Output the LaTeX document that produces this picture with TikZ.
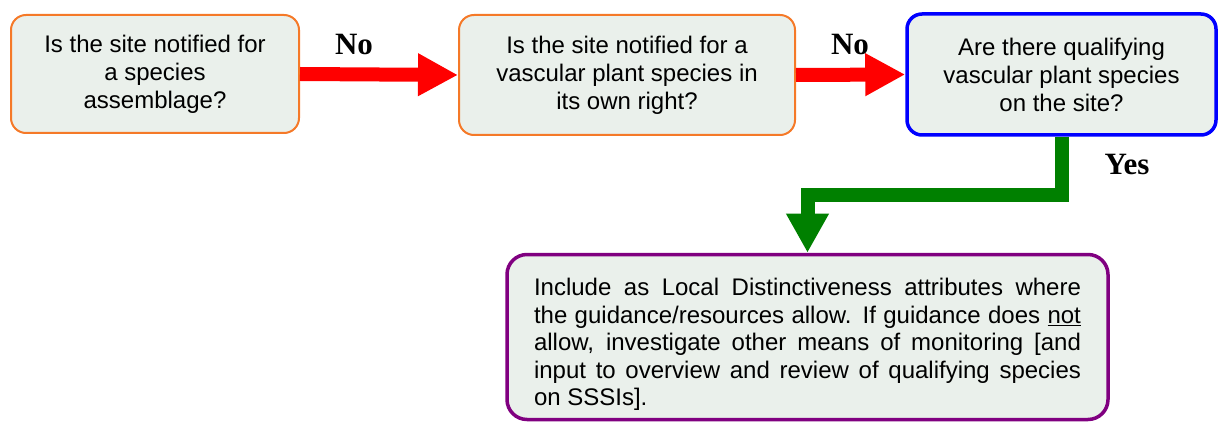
\documentclass[tikz,border=0pt]{standalone}
\usepackage{fontspec}
\setmainfont{Liberation Sans}
\newfontfamily\labelfont{Liberation Serif}
\usetikzlibrary{arrows.meta}
\definecolor{boxfill}{RGB}{234,240,235}
\definecolor{orangeb}{RGB}{245,121,40}
\definecolor{blueb}{RGB}{0,0,255}
\definecolor{purpleb}{RGB}{128,0,128}
\definecolor{redarrow}{RGB}{255,0,0}
\definecolor{greenarrow}{RGB}{0,128,0}
\tikzset{
  qbox/.style={draw=orangeb, line width=2pt, fill=boxfill, rounded corners=15pt,
    align=center, inner sep=0pt, font=\fontsize{24}{28}\selectfont},
  bluebox/.style={qbox, draw=blueb, line width=3.5pt},
  resbox/.style={draw=purpleb, line width=3.5pt, fill=boxfill, rounded corners=20pt,
    inner sep=0pt},
  restext/.style={inner sep=0pt, text width=547pt, align=justify,
    font=\fontsize{24}{27.5}\selectfont},
  noarrow/.style={draw=redarrow, line width=14pt, -{Triangle[length=40pt,width=40pt]}},
  yesarrow/.style={draw=greenarrow, line width=14pt, -{Triangle[length=39pt,width=40pt]}},
  lbl/.style={anchor=base, inner sep=0pt, font=\labelfont\bfseries\fontsize{31}{31}\selectfont}
}
\begin{document}
\begin{tikzpicture}[x=1pt,y=-1pt]
\useasboundingbox (0,0) rectangle (1218,422);
\node[qbox, minimum width=288pt, minimum height=118pt] (b1) at (155,74)
  {Is the site notified for\\a species\\assemblage?};
\node[qbox, minimum width=336pt, minimum height=120pt] (b2) at (627,75)
  {Is the site notified for a\\vascular plant species in\\its own right?};
\node[bluebox, minimum width=309pt, minimum height=121pt] (b3) at (1061.5,74.5)
  {Are there qualifying\\vascular plant species\\on the site?};
\node[resbox, minimum width=601pt, minimum height=165pt] (b4) at (807.5,337) {};
\node[restext] (b4text) at (807.5,344.5)
  {Include as Local Distinctiveness attributes where\linebreak
   the guidance/resources allow. If guidance does \underline{not}\linebreak
   allow, investigate other means of monitoring [and\linebreak
   input to overview and review of qualifying species\linebreak
   on SSSIs].};
\coordinate (bend) at (807.5,195);
\draw[noarrow] (b1.east) -- (b2.west);
\draw[noarrow] (b2.east) -- (b3.west);
\draw[yesarrow] (b3.south) |- (bend) -- (b4.north);
\node[lbl] (no1) at (354,55) {No};
\node[lbl] (no2) at (850,55) {No};
\node[lbl] (yes) at (1127,175) {Yes};
\end{tikzpicture}
\end{document}
